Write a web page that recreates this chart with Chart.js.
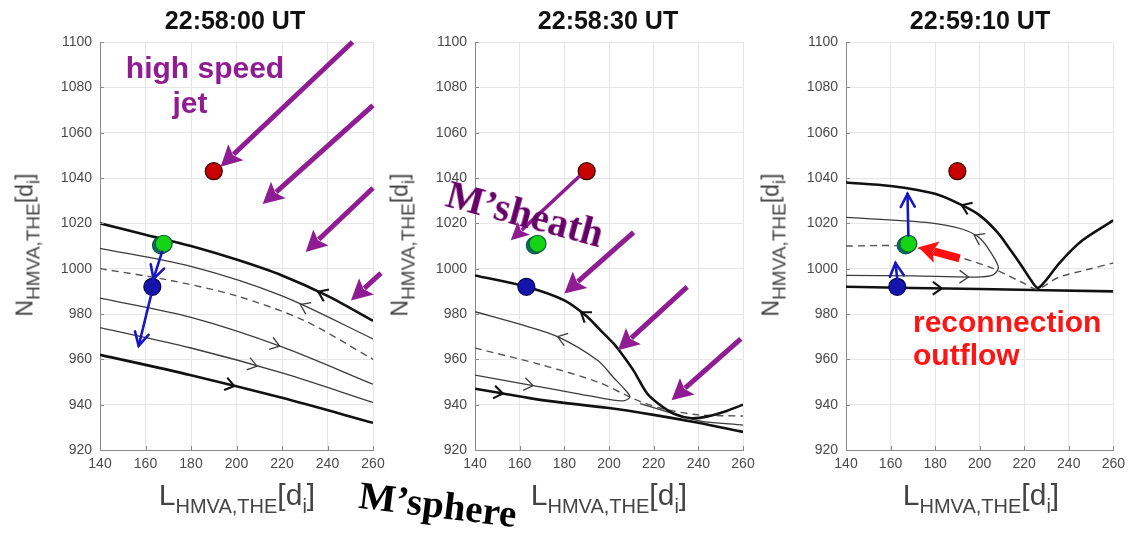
<!DOCTYPE html>
<html><head><meta charset="utf-8">
<script src="https://cdn.jsdelivr.net/npm/chart.js@4.4.1/dist/chart.umd.min.js"></script>
<style>
body{margin:0;background:#fff;width:1131px;height:533px;overflow:hidden;position:relative;font-family:"Liberation Sans",Arial,sans-serif}
canvas{position:absolute;top:0}
.t{position:absolute;white-space:nowrap;line-height:1}
.title{font-weight:bold;font-size:25px;color:#111;transform:translateX(-50%);top:8px}
.xl{font-size:30px;color:#444;transform:translateX(-50%);top:480px}
.xl sub{font-size:20px;vertical-align:-8px;line-height:1}
.yl{font-size:23px;color:#444;transform:translate(-50%,-50%) rotate(-90deg);top:245px}
.yl sub{font-size:19px;vertical-align:-7px;line-height:1}
.purple{color:#901c93;font-weight:bold;font-size:30px}
.red{color:#ff1414;font-weight:bold;font-size:30px}
.serif{font-family:"Liberation Serif","Times New Roman",serif;font-weight:bold}
</style></head>
<body>
<canvas id="c1" width="395" height="533" style="left:0"></canvas>
<canvas id="c2" width="390" height="533" style="left:380px"></canvas>
<canvas id="c3" width="371" height="533" style="left:760px"></canvas>

<div class="t title" style="left:235px">22:58:00 UT</div>
<div class="t title" style="left:608px">22:58:30 UT</div>
<div class="t title" style="left:980px">22:59:10 UT</div>

<div class="t xl" style="left:237px">L<sub>HMVA,THE</sub>[d<sub>i</sub>]</div>
<div class="t xl" style="left:609px">L<sub>HMVA,THE</sub>[d<sub>i</sub>]</div>
<div class="t xl" style="left:981px">L<sub>HMVA,THE</sub>[d<sub>i</sub>]</div>

<div class="t yl" style="left:28px">N<sub>HMVA,THE</sub>[d<sub>i</sub>]</div>
<div class="t yl" style="left:403px">N<sub>HMVA,THE</sub>[d<sub>i</sub>]</div>
<div class="t yl" style="left:774px">N<sub>HMVA,THE</sub>[d<sub>i</sub>]</div>

<div class="t purple" style="left:205px;top:53px;transform:translateX(-50%)">high speed</div>
<div class="t purple" style="left:190px;top:88px;transform:translateX(-50%)">jet</div>
<div class="t serif" style="left:525px;top:214px;font-size:40px;color:#660066;transform:translate(-50%,-50%) rotate(15deg)">M’sheath</div>
<div class="t serif" style="left:438px;top:504px;font-size:39px;color:#000;transform:translate(-50%,-50%) rotate(7deg)">M’sphere</div>
<div class="t red" style="left:913px;top:307px">reconnection</div>
<div class="t red" style="left:913px;top:340px">outflow</div>

<script>
// ---------- data ----------
const xTicks = [140,160,180,200,220,240,260];
const yTicks = [920,940,960,980,1000,1020,1040,1060,1080,1100];
const redDot = [[190,1043]];
const greenDot = [[168,1011]];
const greenShade = [[166.8,1010.3]];
const blueDot = [[163,992]];

// panel 1 (22:58:00)
const p1ThickTop = [[140,1020],[160,1015],[180,1010],[200,1004],[220,997],[240,988],[260,977]];
const p1Thin1    = [[140,1009],[180,1001],[220,988],[260,969]];
const p1Dashed   = [[140,1000],[170,995],[200,988],[230,977],[260,960]];
const p1Thin2    = [[140,987],[180,978.5],[220,965.5],[260,949]];
const p1Thin3    = [[140,974],[180,965],[220,954],[260,941]];
const p1ThickBot = [[140,962],[180,953],[220,943],[260,932]];
const p1ChevTop = [[236,990,-1]], p1ChevThin1 = [[228,984,-1]], p1ChevThin2 = [[219,966,1]],
      p1ChevThin3 = [[209,957,1]], p1ChevBot = [[199,948,1]];
const p1Purple = [[251,1100,193,1045],[260,1072,211.5,1028.5],[260,1035.6,230.4,1007.4],[263.5,998,250.3,986]];
const p1Blue = [[167.3,1007.5,163.5,995.5],[162.5,988.5,157,966]];

// panel 2 (22:58:30)
const p2ThickTop = [[140,997],[163,992],[180,986],[190,979],[196,973],[202,967],[206,962],[211,955],[217,945],[222,940.5],[229,936],[237,934],[245,935],[252,937],[260,940]];
const p2Hairpin  = [[140,981],[160,975.5],[177,970],[195,959.5],[202,952],[206.3,947.5],[209.4,943.5],[207,941.8],[202,942],[185,945],[166,948.4],[140,953]];
const p2Dashed   = [[140,965],[170,957.5],[195,950],[208,944],[215,941],[225,938],[240,935.5],[260,935]];
const p2ThinRight= [[214,940.5],[240,933],[260,931]];
const p2ThickBot = [[140,947],[152,945],[170,942],[200,938.5],[220,935.5],[240,932],[260,928]];
const p2ChevTop = [[188,981.5,-1]], p2ChevHair = [[177,970,-1],[166,948.4,1]], p2ChevBot = [[152.5,945,1]];
const p2Purple = [[211,1016,180,989],[235,992,204,964],[259,969,228,942]];
const p2PurpleThin = [[187,1041,156,1012.5]];

// panel 3 (22:59:10)
const p3ThickTop = [[140,1038],[160,1036.5],[180,1033],[192,1028],[200,1023.5],[208,1016],[214,1008],[219,1001],[223,995],[226,991.5],[229,994],[236,1002.7],[246,1012.4],[260,1021.3]];
const p3Hairpin  = [[140,1022.6],[176,1020.4],[192,1017.5],[200,1013.5],[205.3,1006.7],[208.4,1000.5],[206,997.3],[198,996.3],[170,996.8],[140,997]];
const p3Dashed   = [[140,1010],[165,1010],[180,1007.5],[191,1005],[205,1000.5],[220,993.5],[226,991],[235,996],[248,999.5],[260,1002.5]];
const p3ThickBot = [[140,992],[200,991],[260,990]];
const p3ChevTop = [[192,1028,-1]], p3ChevHair = [[198,1015.5,-1],[195,996.3,1]], p3ChevBot = [[183,991,1]];
const p3Blue = [[163,995.5,162.2,1002.5],[168,1014.5,167.6,1033]];
const p3Red = [[191,1004.5,172.5,1009.5]];

// ---------- helpers ----------
Chart.defaults.font.family = "'Liberation Sans', Arial, sans-serif";
const pts = a => a.map(p => ({x:p[0], y:p[1]}));
const LSTYLE = {
  thick:{c:'#111',w:2.6,d:[]},
  thin:{c:'#3c3c3c',w:1.3,d:[]},
  dash:{c:'#555',w:1.4,d:[7,5]}
};
function lineDS(arr, kind, chev){
  const s = LSTYLE[kind];
  return {data:pts(arr), borderColor:s.c, borderWidth:s.w, borderDash:s.d, pointRadius:0,
          tension:0.3, fill:false, chevrons:chev||[]};
}
function dotDS(arr, fill, border){
  return {data:pts(arr), showLine:false, pointRadius:8.5, pointHoverRadius:8.5,
          pointBackgroundColor:fill, pointBorderColor:border, pointBorderWidth:1.2};
}
const PURPLE = {color:'#901c93', w:5, h:21, hw:11};
const PURPLE_T = {color:'#901c93', w:3.5, h:18, hw:9};
const BLUE = {color:'#1616c8', w:2.6, h:13, hw:7, open:true};
const RED = {color:'#ff1010', w:8, h:19, hw:11};
function arrowDS(seg, style){
  return {data:[{x:seg[0],y:seg[1]},{x:seg[2],y:seg[3]}], showLine:false, pointRadius:0, arrow:style};
}

function drawArrow(ctx,x0,y0,x1,y1,s){
  const dx=x1-x0, dy=y1-y0, L=Math.hypot(dx,dy), ux=dx/L, uy=dy/L, nx=-uy, ny=ux;
  ctx.save(); ctx.strokeStyle=s.color; ctx.fillStyle=s.color; ctx.lineWidth=s.w; ctx.setLineDash([]);
  if(s.open){
    ctx.lineCap='round';
    ctx.beginPath(); ctx.moveTo(x0,y0); ctx.lineTo(x1,y1); ctx.stroke();
    ctx.beginPath();
    ctx.moveTo(x1-ux*s.h+nx*s.hw, y1-uy*s.h+ny*s.hw); ctx.lineTo(x1,y1);
    ctx.lineTo(x1-ux*s.h-nx*s.hw, y1-uy*s.h-ny*s.hw); ctx.stroke();
  } else {
    const bx=x1-ux*s.h, by=y1-uy*s.h;
    ctx.lineCap='butt';
    ctx.beginPath(); ctx.moveTo(x0,y0); ctx.lineTo(bx+ux*3,by+uy*3); ctx.stroke();
    ctx.beginPath(); ctx.moveTo(x1,y1);
    ctx.lineTo(bx+nx*s.hw,by+ny*s.hw); ctx.lineTo(bx+ux*4,by+uy*4); ctx.lineTo(bx-nx*s.hw,by-ny*s.hw);
    ctx.closePath(); ctx.fill();
  }
  ctx.restore();
}

const decoPlugin = {
  id:'deco',
  afterDatasetsDraw(chart){
    const ctx=chart.ctx, xs=chart.scales.x, ys=chart.scales.y;
    chart.data.datasets.forEach((ds,i)=>{
      const meta = chart.getDatasetMeta(i).data;
      (ds.chevrons||[]).forEach(([cx,cy,dir])=>{
        const px=xs.getPixelForValue(cx), py=ys.getPixelForValue(cy);
        let best=null;
        for(let k=0;k<meta.length-1;k++){
          const a=meta[k], b=meta[k+1], dx=b.x-a.x, dy=b.y-a.y, L2=dx*dx+dy*dy||1;
          let t=((px-a.x)*dx+(py-a.y)*dy)/L2; t=Math.max(0,Math.min(1,t));
          const qx=a.x+t*dx, qy=a.y+t*dy, d=(qx-px)**2+(qy-py)**2;
          if(!best||d<best.d) best={d,qx,qy,dx,dy};
        }
        let ang=Math.atan2(best.dy,best.dx);
        if(Math.cos(ang)*dir<0) ang+=Math.PI;
        const L=11, al=0.62;
        ctx.save(); ctx.strokeStyle=ds.borderColor; ctx.lineWidth=Math.max(1.3,ds.borderWidth*0.8); ctx.setLineDash([]);
        ctx.beginPath();
        ctx.moveTo(best.qx-L*Math.cos(ang-al), best.qy-L*Math.sin(ang-al));
        ctx.lineTo(best.qx,best.qy);
        ctx.lineTo(best.qx-L*Math.cos(ang+al), best.qy-L*Math.sin(ang+al));
        ctx.stroke(); ctx.restore();
      });
    });
    chart.data.datasets.forEach((ds,i)=>{
      if(!ds.arrow) return;
      const m=chart.getDatasetMeta(i).data;
      drawArrow(ctx,m[0].x,m[0].y,m[1].x,m[1].y,ds.arrow);
    });
  },
  afterDraw(chart){
    const ctx=chart.ctx, a=chart.chartArea, xs=chart.scales.x, ys=chart.scales.y;
    ctx.save(); ctx.strokeStyle='#8a8a8a'; ctx.lineWidth=1;
    ctx.beginPath();
    yTicks.forEach(v=>{const p=Math.round(ys.getPixelForValue(v))+0.5; ctx.moveTo(a.left,p); ctx.lineTo(a.left+4,p);});
    xTicks.forEach(v=>{const p=Math.round(xs.getPixelForValue(v))+0.5; ctx.moveTo(p,a.bottom); ctx.lineTo(p,a.bottom-4);});
    ctx.stroke(); ctx.restore();
  }
};

function makePanel(id, datasets, yWidth, rightPad){
  new Chart(document.getElementById(id), {
    type:'line',
    data:{datasets},
    options:{
      responsive:false, animation:false, devicePixelRatio:1,
      layout:{padding:{left:0,right:rightPad,top:42,bottom:53}},
      plugins:{legend:{display:false}, tooltip:{enabled:false}, title:{display:false}},
      events:[],
      scales:{
        x:{type:'linear', min:140, max:260,
           afterBuildTicks:s=>{s.ticks=xTicks.map(v=>({value:v}));},
           afterFit:s=>{s.height=30;},
           ticks:{color:'#4a4a4a', font:{size:14}, padding:6, maxRotation:0, autoSkip:false,
                  callback:v=>String(v)},
           grid:{color:'#e6e6e6', drawTicks:false},
           border:{color:'#8a8a8a', width:1}},
        y:{type:'linear', min:920, max:1100,
           afterBuildTicks:s=>{s.ticks=yTicks.map(v=>({value:v}));},
           afterFit:s=>{s.width=yWidth;},
           ticks:{color:'#4a4a4a', font:{size:14}, padding:8, autoSkip:false,
                  callback:v=>String(v)},
           grid:{color:'#e6e6e6', drawTicks:false},
           border:{color:'#8a8a8a', width:1}}
      }
    },
    plugins:[decoPlugin]
  });
}

function dots(){
  return [dotDS(redDot,'#c80000','#3a0000'), dotDS(greenDot,'#14d214','#0b5a3c'),
          dotDS(greenShade,'#0b6e60','#0b5a50'), dotDS(blueDot,'#1414aa','#000050')];
}

makePanel('c1', [
  ...p1Purple.map(s=>arrowDS(s,PURPLE)),
  ...p1Blue.map(s=>arrowDS(s,BLUE)),
  ...dots(),
  lineDS(p1ThickTop,'thick',p1ChevTop),
  lineDS(p1Thin1,'thin',p1ChevThin1),
  lineDS(p1Dashed,'dash'),
  lineDS(p1Thin2,'thin',p1ChevThin2),
  lineDS(p1Thin3,'thin',p1ChevThin3),
  lineDS(p1ThickBot,'thick',p1ChevBot)
], 100, 22);

makePanel('c2', [
  ...p2Purple.map(s=>arrowDS(s,PURPLE)),
  ...p2PurpleThin.map(s=>arrowDS(s,PURPLE_T)),
  ...dots(),
  lineDS(p2ThickTop,'thick',p2ChevTop),
  lineDS(p2Hairpin,'thin',p2ChevHair),
  lineDS(p2Dashed,'dash'),
  lineDS(p2ThinRight,'thin'),
  lineDS(p2ThickBot,'thick',p2ChevBot)
], 95, 27);

makePanel('c3', [
  ...p3Red.map(s=>arrowDS(s,RED)),
  ...p3Blue.map(s=>arrowDS(s,BLUE)),
  ...dots(),
  lineDS(p3ThickTop,'thick',p3ChevTop),
  lineDS(p3Hairpin,'thin',p3ChevHair),
  lineDS(p3Dashed,'dash'),
  lineDS(p3ThickBot,'thick',p3ChevBot)
], 86, 15);
</script>
</body></html>
